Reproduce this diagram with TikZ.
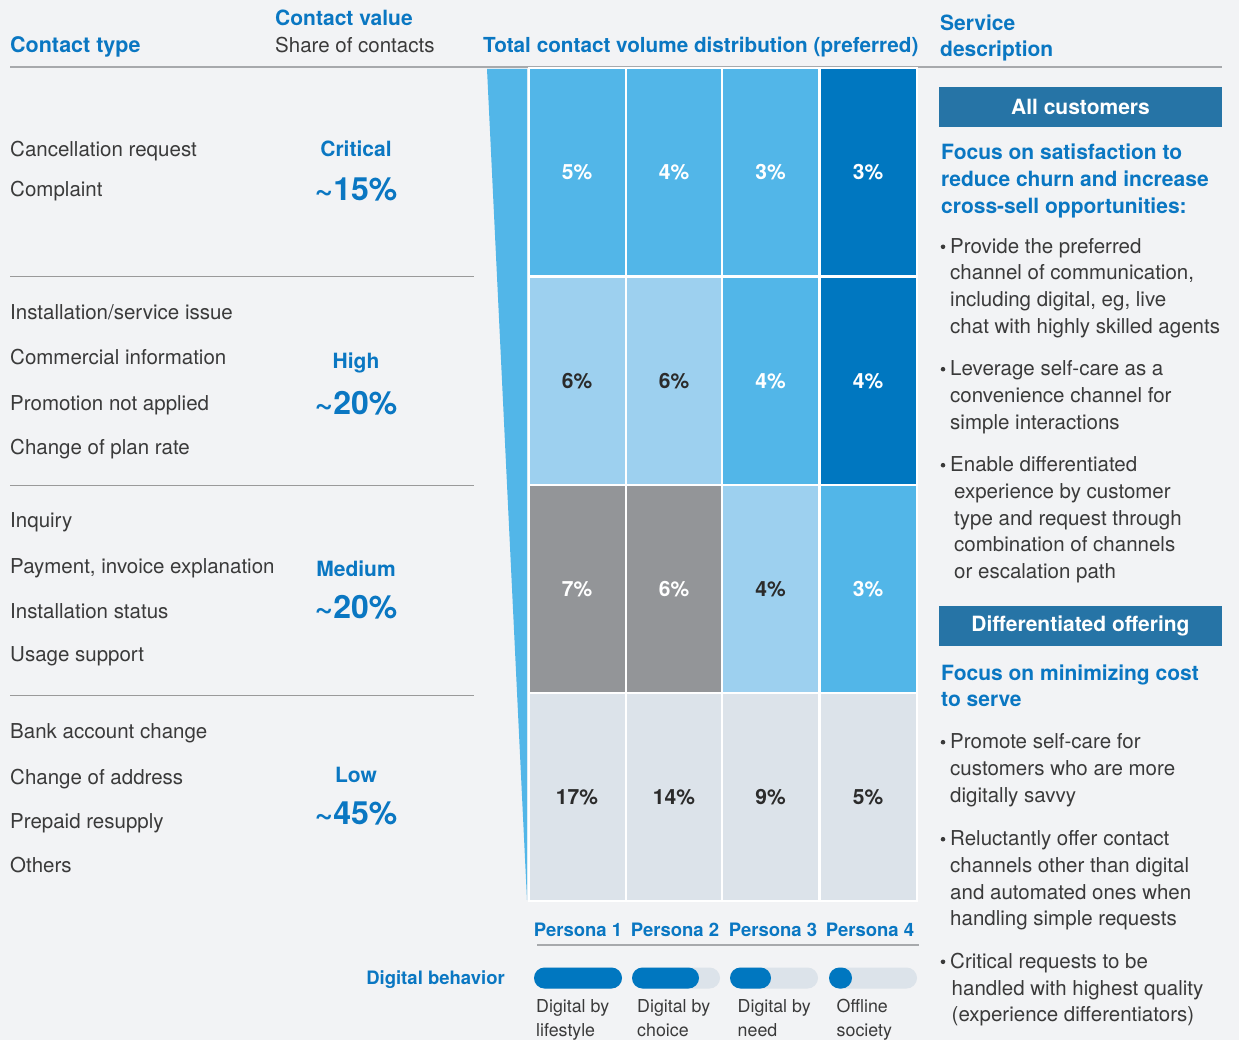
\documentclass[tikz,border=0pt]{standalone}
\usepackage{fontspec}
\setmainfont{TeX Gyre Heros}
\definecolor{bg}{HTML}{F2F3F5}
\definecolor{txt}{HTML}{3A3A3A}
\definecolor{dtxt}{HTML}{2B2B2B}
\definecolor{hblue}{HTML}{0A77C2}
\definecolor{boxblue}{HTML}{2674A6}
\definecolor{cL}{HTML}{52B6E8}
\definecolor{cLL}{HTML}{9DD0EF}
\definecolor{cD}{HTML}{0077C0}
\definecolor{cG}{HTML}{939598}
\definecolor{cP}{HTML}{DCE3EA}
\definecolor{rulec}{HTML}{A7A9AC}
\definecolor{sepc}{HTML}{9A9A9A}
\begin{document}
\begin{tikzpicture}[x=1pt,y=-1pt,
  reg/.style={font=\fontsize{20.5}{24}\selectfont, text=txt, inner sep=0pt, anchor=base west},
  small/.style={font=\fontsize{17.8}{21}\selectfont, text=txt, inner sep=0pt, anchor=base west},
  head/.style={font=\fontsize{21}{25}\selectfont\bfseries, text=hblue, inner sep=0pt, anchor=base west},
  valname/.style={font=\fontsize{21}{25}\selectfont\bfseries, text=hblue, inner sep=0pt, anchor=base},
  valpct/.style={font=\fontsize{32}{36}\selectfont\bfseries, text=hblue, inner sep=0pt, anchor=base},
  persona/.style={font=\fontsize{18.5}{22}\selectfont\bfseries, text=hblue, inner sep=0pt, anchor=base},
  cell/.style={rectangle, draw=white, line width=2pt, inner sep=0pt, minimum width=97pt, minimum height=208pt, font=\fontsize{21}{25}\selectfont\bfseries},
  wcell/.style={cell, text=white},
  dcell/.style={cell, text=dtxt},
  bluebox/.style={rectangle, fill=boxblue, text=white, inner sep=0pt, minimum width=283pt, minimum height=40pt, font=\fontsize{21}{25}\selectfont\bfseries},
  bar/.style={rounded corners=10.5pt}
]
\fill[bg] (0,0) rectangle (1239,1040);
\useasboundingbox (0,0) rectangle (1239,1040);

% header
\node[head] (hcv) at (275,26) {Contact value};
\node[reg] (hsh) at (275,52.5) {Share of contacts};
\node[head, font=\fontsize{21.5}{25}\selectfont\bfseries] (hct) at (10,52.5) {Contact type};
\node[head, font=\fontsize{20.7}{25}\selectfont\bfseries] (htot) at (483,52.5) {Total contact volume distribution (preferred)};
\node[head] (hsv1) at (940,31) {Service};
\node[head] (hsv2) at (940,57) {description};
\draw[rulec, line width=2pt] (10,67) -- (1222,67);

% left separators
\foreach \y in {277,485,695} \draw[sepc, line width=1pt] (10,\y) -- (474,\y);

% contact types
\foreach \y/\t [count=\i] in {157/Cancellation request, 197/Complaint,
  320/{Installation/service issue}, 365/Commercial information, 410/Promotion not applied, 454/Change of plan rate,
  527/Inquiry, 573/{Payment, invoice explanation}, 618/Installation status, 661/Usage support,
  738/Bank account change, 784/Change of address, 828/Prepaid resupply, 872/Others}
  \node[reg] (ct\i) at (10,\y) {\t};

% contact values
\node[valname] (v1) at (356,157) {Critical};
\node[valpct] (p1) at (356,201) {\textasciitilde15\%};
\node[valname] (v2) at (356,369) {High};
\node[valpct] (p2) at (356,414) {\textasciitilde20\%};
\node[valname] (v3) at (356,576) {Medium};
\node[valpct] (p3) at (356,618) {\textasciitilde20\%};
\node[valname] (v4) at (356,782) {Low};
\node[valpct] (p4) at (356,824) {\textasciitilde45\%};

% wedge
\fill[cL] (487,69) -- (527,69) -- (527,900) -- cycle;

% grid
\node[wcell, fill=cL] (c11) at (577,172.5) {5\%};
\node[wcell, fill=cL] (c12) at (674,172.5) {4\%};
\node[wcell, fill=cL] (c13) at (770.5,172.5) {3\%};
\node[wcell, fill=cD] (c14) at (868,172.5) {3\%};
\node[dcell, fill=cLL] (c21) at (577,381) {6\%};
\node[dcell, fill=cLL] (c22) at (674,381) {6\%};
\node[wcell, fill=cL] (c23) at (770.5,381) {4\%};
\node[wcell, fill=cD] (c24) at (868,381) {4\%};
\node[wcell, fill=cG] (c31) at (577,589) {7\%};
\node[wcell, fill=cG] (c32) at (674,589) {6\%};
\node[dcell, fill=cLL] (c33) at (770.5,589) {4\%};
\node[wcell, fill=cL] (c34) at (868,589) {3\%};
\node[dcell, fill=cP] (c41) at (577,797) {17\%};
\node[dcell, fill=cP] (c42) at (674,797) {14\%};
\node[dcell, fill=cP] (c43) at (770.5,797) {9\%};
\node[dcell, fill=cP] (c44) at (868,797) {5\%};

% personas
\node[persona] (pe1) at (578,936.5) {Persona 1};
\node[persona] (pe2) at (675,936.5) {Persona 2};
\node[persona] (pe3) at (773,936.5) {Persona 3};
\node[persona] (pe4) at (870,936.5) {Persona 4};
\draw[rulec, line width=1.5pt] (537,945) -- (919,945);

% digital behavior
\node[persona, anchor=base east] (db) at (505,984) {Digital behavior};
\fill[cP, bar] (534,967.5) rectangle (622,988.5);
\fill[cP, bar] (632,967.5) rectangle (720,988.5);
\fill[cP, bar] (730,967.5) rectangle (818,988.5);
\fill[cP, bar] (829,967.5) rectangle (917,988.5);
\fill[cD, bar] (534,967.5) rectangle (622,988.5);
\fill[cD, bar] (632,967.5) rectangle (699,988.5);
\fill[cD, bar] (730,967.5) rectangle (771,988.5);
\fill[cD, bar] (829,967.5) rectangle (852,988.5);
\node[small] (d1a) at (536,1012.5) {Digital by};
\node[small] (d1b) at (536,1036) {lifestyle};
\node[small] (d2a) at (637,1012.5) {Digital by};
\node[small] (d2b) at (637,1036) {choice};
\node[small] (d3a) at (737.5,1012.5) {Digital by};
\node[small] (d3b) at (737.5,1036) {need};
\node[small] (d4a) at (836.5,1012.5) {Offline};
\node[small] (d4b) at (836.5,1036) {society};

% right column
\node[bluebox] (allc) at (1080.5,107) {All customers};
\node[head] (f1) at (941,160) {Focus on satisfaction to};
\node[head] (f2) at (941,187) {reduce churn and increase};
\node[head] (f3) at (941,214) {cross-sell opportunities:};

\foreach \y in {253.3,375.7,471.7,748.7,845.7,968.3} \fill[txt] (943,\y-6.5) circle (2.3pt);

\foreach \y/\x/\t [count=\i] in {253.3/950/Provide the preferred, 280/950/{channel of communication,}, 306.7/950/{including digital, eg, live}, 333.3/950/chat with highly skilled agents,
  375.7/950/Leverage self-care as a, 402.3/950/convenience channel for, 429/950/simple interactions,
  471.7/950/Enable differentiated, 498.3/954/experience by customer, 525/954/type and request through, 551.7/954/combination of channels, 578.3/954/or escalation path}
  \node[reg] (ra\i) at (\x,\y) {\t};

\node[bluebox] (diff) at (1080.5,626) {Differentiated offering};
\node[head] (g1) at (941,680) {Focus on minimizing cost};
\node[head] (g2) at (941,706.7) {to serve};

\foreach \y/\x/\t [count=\i] in {748.7/950/Promote self-care for, 775.3/950/customers who are more, 802/950/digitally savvy,
  845.7/950/Reluctantly offer contact, 872.3/950/channels other than digital, 899/950/and automated ones when, 925.3/950/handling simple requests,
  968.3/950/Critical requests to be, 995/951.5/handled with highest quality, 1021.3/951.5/(experience differentiators)}
  \node[reg] (rb\i) at (\x,\y) {\t};
\end{tikzpicture}
\end{document}
